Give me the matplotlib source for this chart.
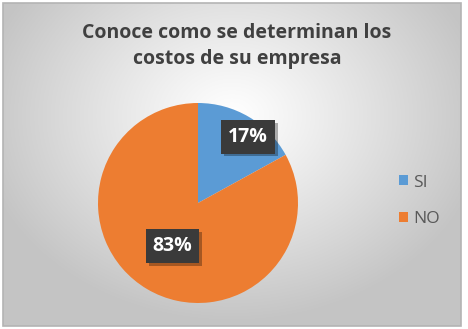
import numpy as np
import matplotlib
matplotlib.use("Agg")
import matplotlib.pyplot as plt
from matplotlib.patches import Rectangle, Patch
import matplotlib.patheffects as pe

labels = ["SI", "NO"]
shares = [17, 83]
colors = ["#5b9bd5", "#ed7d31"]
title = "Conoce como se determinan los\ncostos de su empresa"
label_dist = [0.83, 0.5]
label_shift = [-6.5, 0.0]  # degrees, nudge like Excel's best fit

W, H = 468, 329
fig = plt.figure(figsize=(W / 100, H / 100), dpi=100, facecolor="white")

# chart area with radial gradient background
x0, y0, x1, y1 = 3, 3, 461, 326
bg = fig.add_axes([x0 / W, 1 - y1 / H, (x1 - x0) / W, (y1 - y0) / H])
gx, gy = np.meshgrid(np.linspace(0, 1, 300), np.linspace(0, 1, 300))
d = np.sqrt(((gx - 0.5) / 0.75) ** 2 + ((gy - 0.35) / 0.85) ** 2)
d = np.clip(d / 0.75, 0, 1)
c0, c1 = np.array([1.0, 1.0, 1.0]), np.array([0.77, 0.77, 0.77])
img = c0 + (c1 - c0) * d[..., None] ** 1.1
bg.imshow(img, extent=[0, 1, 0, 1], origin="upper", aspect="auto")
bg.set_axis_off()
fig.add_artist(Rectangle((x0 / W, 1 - y1 / H), (x1 - x0) / W, (y1 - y0) / H,
                         transform=fig.transFigure, fill=False,
                         edgecolor="#b4b4b4", linewidth=1.2))

fig.text(237 / W, 1 - 46 / H, title, ha="center", va="center",
         fontsize=14, color="#404040", family="Open Sans", weight="bold",
         linespacing=1.4)

# pie
cx, cy, r = 198, 203, 100
ax = fig.add_axes([(cx - r) / W, 1 - (cy + r) / H, 2 * r / W, 2 * r / H])
wedges, _ = ax.pie(shares, colors=colors, startangle=90, counterclock=False,
                   radius=1, wedgeprops=dict(linewidth=0))
ax.set_xlim(-1, 1)
ax.set_ylim(-1, 1)
ax.set_axis_off()

for w, v, dist, sh in zip(wedges, shares, label_dist, label_shift):
    ang = np.radians((w.theta1 + w.theta2) / 2 + sh)
    t = ax.text(dist * np.cos(ang), dist * np.sin(ang), f"{v}%", ha="center",
                va="center", fontsize=14, color="white", weight="bold",
                family="Open Sans",
                bbox=dict(boxstyle="square,pad=0.35", facecolor="#3a3a3a",
                          edgecolor="none"))
    t.get_bbox_patch().set_path_effects(
        [pe.withSimplePatchShadow(offset=(2, -2), shadow_rgbFace="black", alpha=0.3)])

handles = [Patch(facecolor=c, edgecolor="none") for c in colors]
leg = fig.legend(handles, labels, loc="center left",
                 bbox_to_anchor=(399 / W, 1 - 201 / H), frameon=False,
                 borderpad=0, borderaxespad=0,
                 handlelength=0.5, handleheight=0.5, handletextpad=0.3,
                 labelspacing=1.2, prop=dict(family="Open Sans", size=12.5),
                 labelcolor="#595959")

fig.savefig("out.png", dpi=100)
